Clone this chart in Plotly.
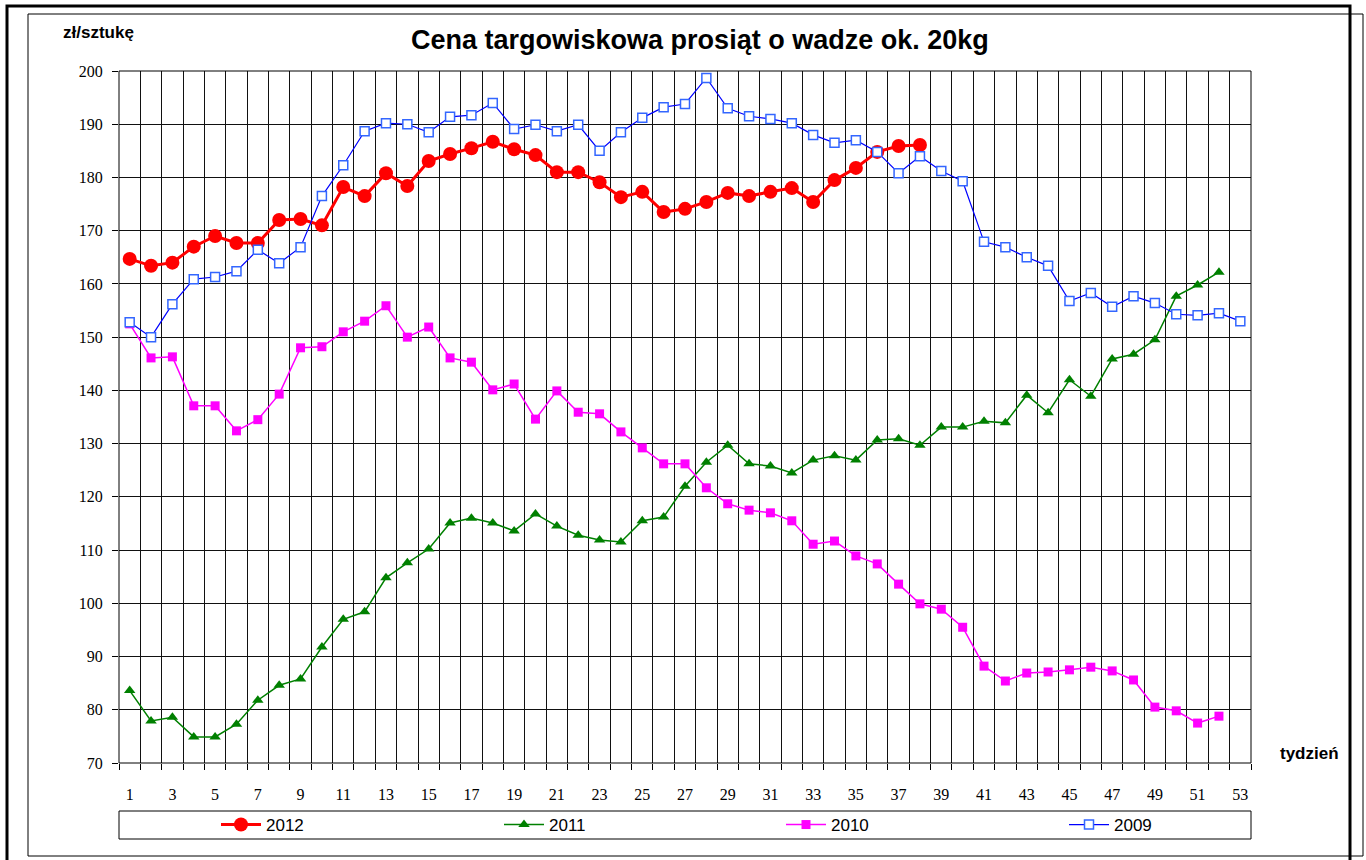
import plotly.graph_objects as go

weeks = list(range(1, 54))
tick_weeks = list(range(1, 54, 2))

v2012 = [164.7, 163.4, 164.0, 167.0, 169.0, 167.7, 167.7, 172.0, 172.2, 171.0,
         178.2, 176.5, 180.8, 178.4, 183.1, 184.4, 185.5, 186.7, 185.3, 184.2,
         181.0, 181.0, 179.1, 176.3, 177.3, 173.5, 174.1, 175.4, 177.1, 176.5,
         177.3, 178.0, 175.4, 179.5, 181.8, 184.8, 185.9, 186.1]

v2011 = [83.6, 77.9, 78.6, 74.9, 74.9, 77.3, 81.8, 84.6, 85.8, 91.8,
         97.0, 98.4, 104.8, 107.6, 110.2, 115.1, 116.0, 115.1, 113.6, 116.8,
         114.5, 112.8, 111.9, 111.5, 115.5, 116.2, 122.0, 126.5, 129.7, 126.2,
         125.8, 124.5, 126.9, 127.7, 126.9, 130.7, 130.9, 129.7, 133.1, 133.1,
         134.2, 133.9, 139.1, 135.8, 142.0, 138.9, 145.9, 146.8, 149.5, 157.7,
         159.8, 162.2]

v2010 = [152.5, 146.1, 146.3, 137.1, 137.1, 132.4, 134.5, 139.3, 148.0, 148.2,
         151.0, 153.0, 155.9, 150.0, 151.9, 146.1, 145.3, 140.1, 141.2, 134.6,
         139.9, 135.9, 135.6, 132.2, 129.2, 126.2, 126.2, 121.7, 118.7, 117.5,
         117.0, 115.5, 111.1, 111.7, 108.9, 107.4, 103.6, 99.9, 98.9, 95.5,
         88.2, 85.4, 86.9, 87.1, 87.5, 88.0, 87.3, 85.6, 80.5, 79.8,
         77.5, 78.8]

v2009 = [152.8, 150.0, 156.2, 160.9, 161.3, 162.4, 166.4, 163.9, 166.9, 176.5,
         182.3, 188.7, 190.2, 190.0, 188.5, 191.4, 191.7, 194.0, 189.1, 189.9,
         188.7, 189.9, 185.0, 188.5, 191.2, 193.2, 193.8, 198.7, 193.0, 191.5,
         191.0, 190.2, 188.0, 186.5, 187.0, 184.8, 180.8, 184.0, 181.2, 179.3,
         167.9, 166.9, 165.0, 163.4, 156.8, 158.3, 155.7, 157.7, 156.4, 154.3,
         154.1, 154.5, 153.0]

W, H = 1366, 860
L, R, T, B = 119, 1251, 71, 763


def px(x):
    return (x - L) / (R - L)


def py(y):
    return (B - y) / (B - T)


SANS = "Liberation Sans, Arial, sans-serif"
SERIF = "Liberation Serif, serif"

fig = go.Figure()
fig.add_trace(go.Scatter(x=weeks[:len(v2012)], y=v2012, name="2012", mode="lines+markers",
                         legend="legend",
                         line=dict(color="#FF0000", width=3),
                         marker=dict(symbol="circle", size=14, color="#FF0000")))
fig.add_trace(go.Scatter(x=weeks[:len(v2011)], y=v2011, name="2011", mode="lines+markers",
                         legend="legend2",
                         line=dict(color="#008000", width=1.5),
                         marker=dict(symbol="triangle-up", size=10, color="#008000")))
fig.add_trace(go.Scatter(x=weeks[:len(v2010)], y=v2010, name="2010", mode="lines+markers",
                         legend="legend3",
                         line=dict(color="#FF00FF", width=1.5),
                         marker=dict(symbol="square", size=9, color="#FF00FF")))
fig.add_trace(go.Scatter(x=weeks[:len(v2009)], y=v2009, name="2009", mode="lines+markers",
                         legend="legend4",
                         line=dict(color="#0000FF", width=1.2),
                         marker=dict(symbol="square", size=9, color="#FFFFFF",
                                     line=dict(color="#3366FF", width=1.5))))

shapes = [
    dict(type="rect", xref="paper", yref="paper", x0=px(7), x1=px(1350), y0=py(875), y1=py(6),
         line=dict(color="#000", width=3), layer="below"),
    dict(type="rect", xref="paper", yref="paper", x0=px(28), x1=px(1363), y0=py(856), y1=py(14),
         line=dict(color="#000", width=1), layer="below"),
    dict(type="rect", xref="paper", yref="paper", x0=px(119), x1=px(1251), y0=py(839), y1=py(811),
         line=dict(color="#000", width=1), fillcolor="white", layer="below"),
    dict(type="rect", xref="paper", yref="paper", x0=0, x1=1, y0=0, y1=1,
         line=dict(color="#000", width=1)),
]


def leg(xpix):
    return dict(orientation="h", x=px(xpix), y=py(825), xanchor="left", yanchor="middle",
                bgcolor="rgba(0,0,0,0)", itemwidth=40,
                font=dict(family=SANS, size=17, color="#000"))


fig.update_layout(
    width=W, height=H,
    margin=dict(l=L, r=W - R, t=T, b=H - B),
    paper_bgcolor="white", plot_bgcolor="white",
    showlegend=True,
    shapes=shapes,
    title=dict(text="<b>Cena targowiskowa prosiąt o wadze ok. 20kg</b>",
               x=px(699), xanchor="center", y=1 - 40 / H, yanchor="middle",
               font=dict(family=SANS, size=27, color="#000")),
    annotations=[
        dict(text="<b>zł/sztukę</b>", xref="paper", yref="paper", x=px(61), y=py(32),
             xanchor="left", yanchor="middle", showarrow=False,
             font=dict(family=SANS, size=17, color="#000")),
        dict(text="<b>tydzień</b>", xref="paper", yref="paper", x=px(1278), y=py(753),
             xanchor="left", yanchor="middle", showarrow=False,
             font=dict(family=SANS, size=17, color="#000")),
    ],
    legend=leg(216), legend2=leg(499), legend3=leg(781), legend4=leg(1064),
    xaxis=dict(range=[0.5, 53.5], tickmode="array", tickvals=tick_weeks,
               ticktext=[str(w) for w in tick_weeks], showgrid=False, zeroline=False,
               ticks="", ticklabelstandoff=20,
               tickfont=dict(family=SERIF, size=16, color="#000"),
               minor=dict(tickmode="linear", tick0=0.5, dtick=1, showgrid=True,
                          gridcolor="#111", gridwidth=1, ticks="outside", ticklen=6,
                          tickcolor="#000")),
    yaxis=dict(range=[70, 200], tickmode="linear", tick0=70, dtick=10, showgrid=True,
               gridcolor="#111", gridwidth=1, zeroline=False, ticks="outside", ticklen=6,
               tickcolor="#000", ticklabelstandoff=6,
               tickfont=dict(family=SERIF, size=16, color="#000")),
)

fig.write_html("out.html", config={"displayModeBar": False},
               post_script="document.body.style.margin='0';")
